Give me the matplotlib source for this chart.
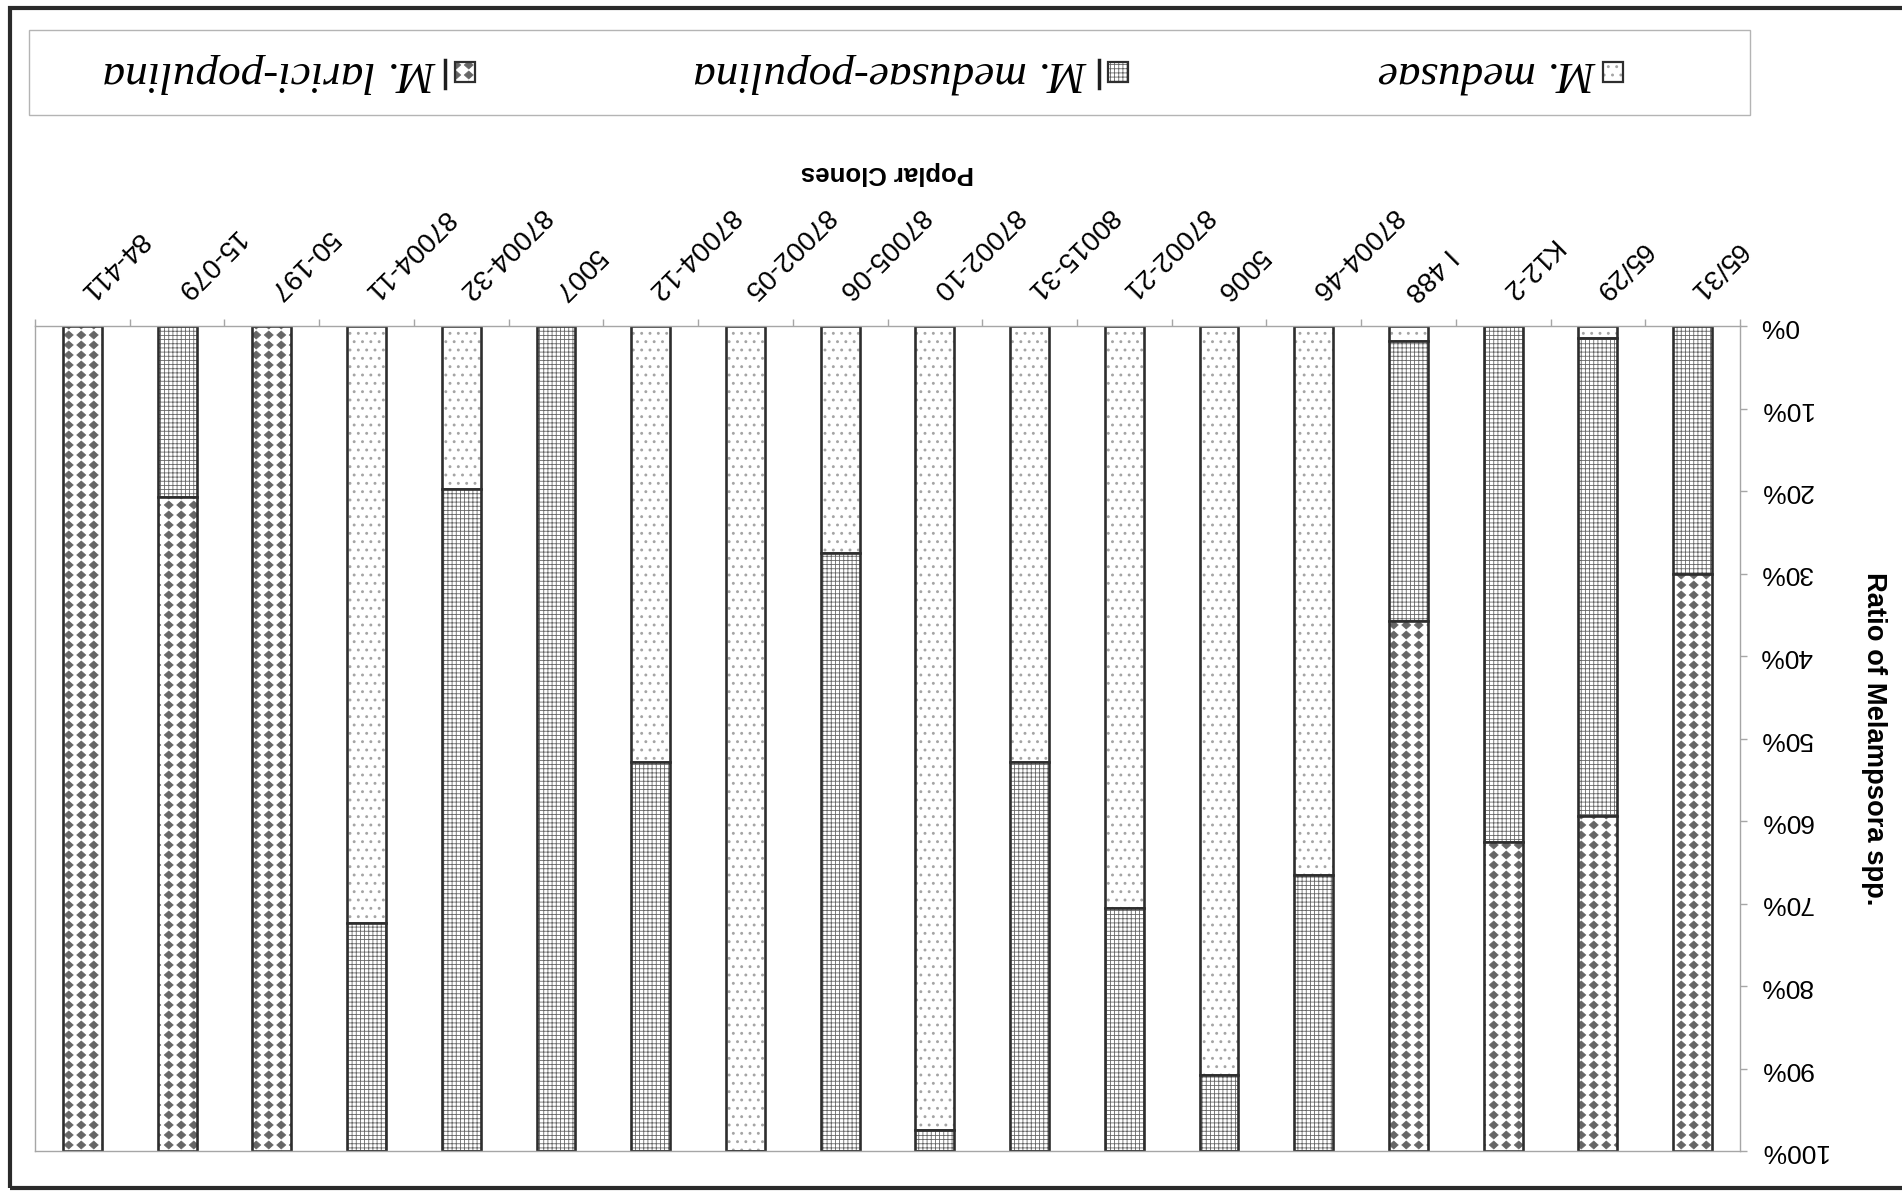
import numpy as np
import matplotlib
matplotlib.use('Agg')
import matplotlib.pyplot as plt
import matplotlib.hatch as mhatch
from matplotlib.path import Path
from matplotlib.patches import Rectangle
from matplotlib.lines import Line2D

# Melampsora species ratio (%) per poplar clone
clones = ['65/31', '65/29', 'K12-2', 'I 488', '87004-46', '5006', '87002-21',
          '80015-31', '87002-10', '87005-06', '87002-05', '87004-12', '5007',
          '87004-32', '87004-11', '50-197', '15-079', '84-411']
medusae = [0, 1.5, 0, 1.8, 66.5, 90.8, 70.6, 52.8, 97.5, 27.5, 100, 52.8, 0,
           19.8, 72.4, 0, 0, 0]
medusae_populina = [30.1, 57.9, 62.6, 34.0, 33.5, 9.2, 29.4, 47.2, 2.5, 72.5, 0,
                    47.2, 100, 80.2, 27.6, 0, 20.7, 0]
larici_populina = [69.9, 40.6, 37.4, 64.2, 0, 0, 0, 0, 0, 0, 0, 0, 0, 0, 0,
                   100, 79.3, 100]
series_names = ['M. medusae', 'M. medusae-populina', 'M. larici-populina']
pct_ticks = list(range(0, 101, 10))

W, H = 1902, 1192
grey = '#a6a6a6'
dark = '#2e2e2e'

plt.rcParams['font.family'] = ['Liberation Sans', 'DejaVu Sans']


class DiamondHatch(mhatch.HatchPatternBase):
    # filled diamonds on a square grid, used for the '*' hatch
    def __init__(self, hatch, density):
        n = hatch.count('*')
        self.nx = 8 * n
        self.ny = 10 * n
        self.num_vertices = self.nx * self.ny * 5

    def set_vertices_and_codes(self, vertices, codes):
        dx, dy = 1.0 / self.nx, 1.0 / self.ny
        shape = np.array([[0, 0.40], [0.36, 0], [0, -0.40], [-0.36, 0], [0, 0.40]])
        shape = shape * [dx, dy]
        cx, cy = np.meshgrid((np.arange(self.nx) + 0.5) * dx,
                             (np.arange(self.ny) + 0.5) * dy)
        centres = np.column_stack([cx.ravel(), cy.ravel()])
        vertices[:] = (centres[:, None, :] + shape[None, :, :]).reshape(-1, 2)
        one = [Path.MOVETO, Path.LINETO, Path.LINETO, Path.LINETO, Path.CLOSEPOLY]
        codes[:] = np.tile(one, len(centres))


mhatch._hatch_types = [t for t in mhatch._hatch_types if t is not mhatch.Stars]
mhatch._hatch_types.append(DiamondHatch)

styles = [
    dict(hatch='..', color='#a4a4a4', lw=0.9),
    dict(hatch='++++', color='#666666', lw=0.6),
    dict(hatch='*', color='#666666', lw=0.5),
]

fig = plt.figure(figsize=(W / 100, H / 100), dpi=100)
ax = fig.add_axes([35 / W, 1 - 1151 / H, 1705 / W, 825 / H])

x = np.arange(len(clones))
bar_w = 0.41
bottom = np.zeros(len(clones))
for vals, st in zip([medusae, medusae_populina, larici_populina], styles):
    vals = np.array(vals, dtype=float)
    with plt.rc_context({'hatch.linewidth': st['lw']}):
        ax.bar(x, vals, width=bar_w, bottom=bottom, color='white',
               edgecolor=st['color'], linewidth=0, hatch=st['hatch'])
    ax.bar(x, vals, width=bar_w, bottom=bottom, fill=False,
           edgecolor=dark, linewidth=1.9)
    bottom += vals

# whole chart is upside down: categories run right to left, 0% at the top
ax.set_xlim(len(clones) - 0.5, -0.5)
ax.set_ylim(100, 0)
ax.xaxis.tick_top()
ax.yaxis.tick_right()
for s in ax.spines.values():
    s.set_color(grey)
    s.set_linewidth(1.0)

ax.set_xticks(x)
ax.set_xticklabels(clones, rotation=225, rotation_mode='anchor',
                   ha='right', va='center', fontsize=20)
ax.set_xticks(np.arange(len(clones) + 1) - 0.5, minor=True)
ax.tick_params(axis='x', which='major', length=0, pad=22)
ax.tick_params(axis='x', which='minor', length=5, color=grey, width=1)

ax.set_yticks(pct_ticks)
ax.set_yticklabels([f'{v}%' for v in pct_ticks], rotation=180, va='center',
                   fontsize=19)
ax.tick_params(axis='y', length=5, color=grey, width=1, pad=9)

ax.set_xlabel('Poplar Clones', rotation=180, fontsize=18.5, fontweight='bold')
ax.xaxis.set_label_position('top')
ax.xaxis.set_label_coords(0.5, (1151 - 173) / 825)
ax.xaxis.label.set_va('center')

ax.set_ylabel('Ratio of Melampsora spp.', rotation=270, fontsize=19.7,
              fontweight='bold')
ax.yaxis.set_label_position('right')
ax.yaxis.set_label_coords((1874 - 35) / 1705, 0.5)
ax.yaxis.label.set_ha('center')
ax.yaxis.label.set_va('center')

# legend strip along the top
fig.add_artist(Rectangle((29 / W, 1 - 115 / H), 1721 / W, 85 / H,
                         transform=fig.transFigure, fill=False,
                         edgecolor='#b4b4b4', linewidth=1))
swatch_x = [1613, 1118, 465]
text_x = [1597, 1088, 437]
bar_x = [None, 1099, 445]
sw = 20
for name, st, sx, tx, bx in zip(series_names, styles, swatch_x, text_x, bar_x):
    with plt.rc_context({'hatch.linewidth': st['lw']}):
        fig.add_artist(Rectangle(((sx - sw / 2) / W, 1 - (72 + sw / 2) / H),
                                 sw / W, sw / H, transform=fig.transFigure,
                                 facecolor='white', edgecolor=st['color'],
                                 linewidth=0, hatch=st['hatch']))
    fig.add_artist(Rectangle(((sx - sw / 2) / W, 1 - (72 + sw / 2) / H),
                             sw / W, sw / H, transform=fig.transFigure,
                             fill=False, edgecolor=dark, linewidth=1.6))
    if bx is not None:
        fig.add_artist(Line2D([bx / W, bx / W], [1 - 60 / H, 1 - 88 / H],
                              transform=fig.transFigure, color='#1e1e1e',
                              linewidth=2.5))
    fig.text(tx / W, 1 - 73 / H, name, rotation=180, ha='right', va='center',
             fontsize=32.5, style='italic', family=['Liberation Serif'])

# outer chart frame
fig.add_artist(Rectangle((10 / W, 1 - 1188 / H), 2000 / W, 1180 / H,
                         transform=fig.transFigure, fill=False,
                         edgecolor='#2a2a2a', linewidth=3))

fig.savefig('out.png', dpi=100, facecolor='white')
